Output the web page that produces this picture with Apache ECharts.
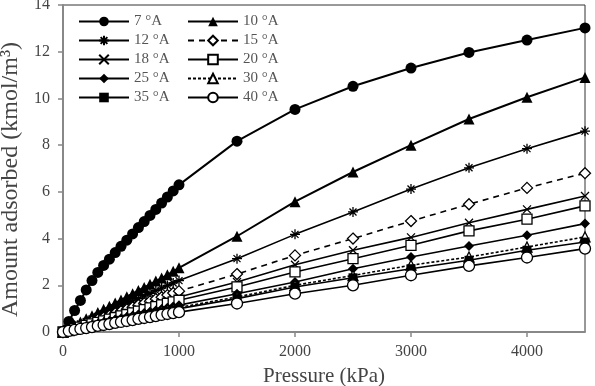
<!DOCTYPE html>
<html>
<head>
<meta charset="utf-8">
<script src="https://cdn.jsdelivr.net/npm/echarts@6/dist/echarts.min.js"></script>
<style>
  html, body { margin: 0; padding: 0; background: #fff; }
  #chart { width: 595px; height: 386px; }
</style>
</head>
<body>
<div id="chart"></div>
<script>
// pressure points (kPa)
const pressure = [0, 50, 100, 150, 200, 250, 300, 350, 400, 450, 500, 550, 600, 650, 700, 750, 800, 850, 900, 950, 1000,
  1500, 2000, 2500, 3000, 3500, 4000, 4500];

// amount adsorbed (kmol/m3) per temperature
const t7 = [0, 0.45, 0.92, 1.35, 1.8, 2.2, 2.55, 2.85, 3.12, 3.4, 3.67, 3.93, 4.2, 4.47, 4.73, 4.99, 5.25, 5.52, 5.78, 6.04, 6.3,
  8.17, 9.53, 10.52, 11.3, 11.97, 12.5, 13.02];
const t10 = [0, 0.15, 0.29, 0.43, 0.57, 0.7, 0.84, 0.97, 1.1, 1.24, 1.37, 1.51, 1.64, 1.78, 1.91, 2.04, 2.18, 2.31, 2.45, 2.6, 2.75,
  4.1, 5.58, 6.85, 8.0, 9.12, 10.05, 10.9];
const t12 = [0, 0.11, 0.23, 0.34, 0.45, 0.56, 0.67, 0.78, 0.89, 1.0, 1.11, 1.22, 1.33, 1.44, 1.55, 1.66, 1.77, 1.88, 1.99, 2.1, 2.2,
  3.14, 4.18, 5.14, 6.12, 7.03, 7.85, 8.6];
const t15 = [0, 0.09, 0.18, 0.27, 0.36, 0.45, 0.53, 0.62, 0.71, 0.8, 0.89, 0.97, 1.06, 1.15, 1.23, 1.32, 1.41, 1.49, 1.58, 1.67, 1.75,
  2.48, 3.28, 4.0, 4.75, 5.47, 6.17, 6.8];
const t18 = [0, 0.08, 0.16, 0.23, 0.31, 0.38, 0.46, 0.53, 0.61, 0.68, 0.76, 0.83, 0.91, 0.98, 1.06, 1.13, 1.21, 1.28, 1.36, 1.43, 1.5,
  2.14, 2.88, 3.5, 4.05, 4.68, 5.25, 5.82];
const t20 = [0, 0.07, 0.14, 0.21, 0.28, 0.35, 0.41, 0.48, 0.55, 0.62, 0.69, 0.75, 0.82, 0.89, 0.96, 1.03, 1.09, 1.16, 1.23, 1.29, 1.36,
  1.93, 2.57, 3.14, 3.71, 4.33, 4.83, 5.4];
const t25 = [0, 0.06, 0.12, 0.18, 0.24, 0.3, 0.35, 0.41, 0.47, 0.53, 0.58, 0.64, 0.7, 0.75, 0.81, 0.87, 0.92, 0.98, 1.04, 1.09, 1.15,
  1.64, 2.14, 2.71, 3.21, 3.68, 4.14, 4.64];
const t30 = [0, 0.055, 0.11, 0.16, 0.22, 0.27, 0.32, 0.38, 0.43, 0.48, 0.53, 0.59, 0.64, 0.69, 0.74, 0.8, 0.85, 0.9, 0.95, 1.0, 1.05,
  1.5, 2.0, 2.42, 2.86, 3.21, 3.64, 4.07];
const t35 = [0, 0.05, 0.1, 0.15, 0.2, 0.25, 0.3, 0.35, 0.4, 0.45, 0.5, 0.55, 0.6, 0.65, 0.7, 0.75, 0.8, 0.85, 0.9, 0.95, 1.0,
  1.43, 1.93, 2.32, 2.71, 3.07, 3.5, 3.85];
const t40 = [0, 0.045, 0.09, 0.13, 0.17, 0.21, 0.26, 0.3, 0.34, 0.39, 0.43, 0.47, 0.51, 0.56, 0.6, 0.64, 0.68, 0.73, 0.77, 0.81, 0.85,
  1.22, 1.64, 2.0, 2.43, 2.83, 3.19, 3.57];

const FONT = "'Liberation Serif', 'DejaVu Serif', serif";
const ASTERISK = 'path://M0,5L10,5M5,0L5,10M1.5,1.5L8.5,8.5M8.5,1.5L1.5,8.5';
const CROSS = 'path://M0,0L10,10M10,0L0,10';

// name, values, symbol, size, filled, dash, line width
const seriesDefs = [
  ['7 °A', t7, 'circle', 11, true, 'solid', 2],
  ['10 °A', t10, 'triangle', 11, true, 'solid', 2],
  ['12 °A', t12, ASTERISK, 10, false, 'solid', 1.6],
  ['15 °A', t15, 'diamond', 11, false, [6, 5], 1.6],
  ['18 °A', t18, CROSS, 8, false, 'solid', 1.6],
  ['20 °A', t20, 'rect', 10, false, 'solid', 1.6],
  ['25 °A', t25, 'diamond', 10, true, 'solid', 1.6],
  ['30 °A', t30, 'triangle', 10, false, [3, 2], 1.6],
  ['35 °A', t35, 'rect', 9, true, 'solid', 1.6],
  ['40 °A', t40, 'circle', 11, false, 'solid', 1.6]
];

const series = seriesDefs.map(([name, vals, symbol, size, filled, dash, w]) => ({
  name,
  type: 'line',
  data: pressure.map((p, i) => [p, vals[i]]),
  symbol,
  symbolSize: size,
  showAllSymbol: true,
  itemStyle: {
    color: filled ? '#000' : '#fff',
    borderColor: '#000',
    borderWidth: filled ? 0 : 1.3
  },
  lineStyle: { color: '#000', width: w, type: dash },
  emphasis: { disabled: true },
  animation: false
}));

const legendCommon = {
  orient: 'vertical',
  top: 9,
  itemWidth: 50,
  itemHeight: 12,
  itemGap: 4,
  textStyle: { fontFamily: FONT, fontSize: 15, color: '#555' },
  selectedMode: false
};

const chart = echarts.init(document.getElementById('chart'), null, { renderer: 'canvas' });
chart.setOption({
  backgroundColor: '#fff',
  animation: false,
  grid: {
    left: 63, right: 10, top: 5, bottom: 54,
    outerBoundsMode: 'none',
    containLabel: false,
    show: true, borderColor: '#333', borderWidth: 1
  },
  legend: [
    Object.assign({}, legendCommon, { left: 73, data: ['7 °A', '12 °A', '18 °A', '25 °A', '35 °A'] }),
    Object.assign({}, legendCommon, { left: 182, data: ['10 °A', '15 °A', '20 °A', '30 °A', '40 °A'] })
  ],
  xAxis: {
    type: 'value',
    min: 0, max: 4500, interval: 1000,
    name: 'Pressure (kPa)',
    nameLocation: 'middle',
    nameGap: 34,
    nameTextStyle: { fontFamily: FONT, fontSize: 21, color: '#444' },
    axisLine: { lineStyle: { color: '#888', width: 2 } },
    axisTick: { lineStyle: { color: '#888', width: 1.5 }, length: 5 },
    axisLabel: { fontFamily: FONT, fontSize: 16, color: '#444', margin: 12, showMaxLabel: false,
      formatter: v => String(v) },
    splitLine: { show: false }
  },
  yAxis: {
    type: 'value',
    min: 0, max: 14, interval: 2,
    name: 'Amount adsorbed (kmol/m³)',
    nameLocation: 'middle',
    nameGap: 37,
    nameTextStyle: { fontFamily: FONT, fontSize: 24, color: '#444', padding: [0, 22, 0, 0] },
    axisLine: { show: true, lineStyle: { color: '#888', width: 2 } },
    axisTick: { show: true, lineStyle: { color: '#888', width: 1.5 }, length: 5 },
    axisLabel: { fontFamily: FONT, fontSize: 16, color: '#444', margin: 13 },
    splitLine: { show: false }
  },
  series
});
</script>
</body>
</html>
